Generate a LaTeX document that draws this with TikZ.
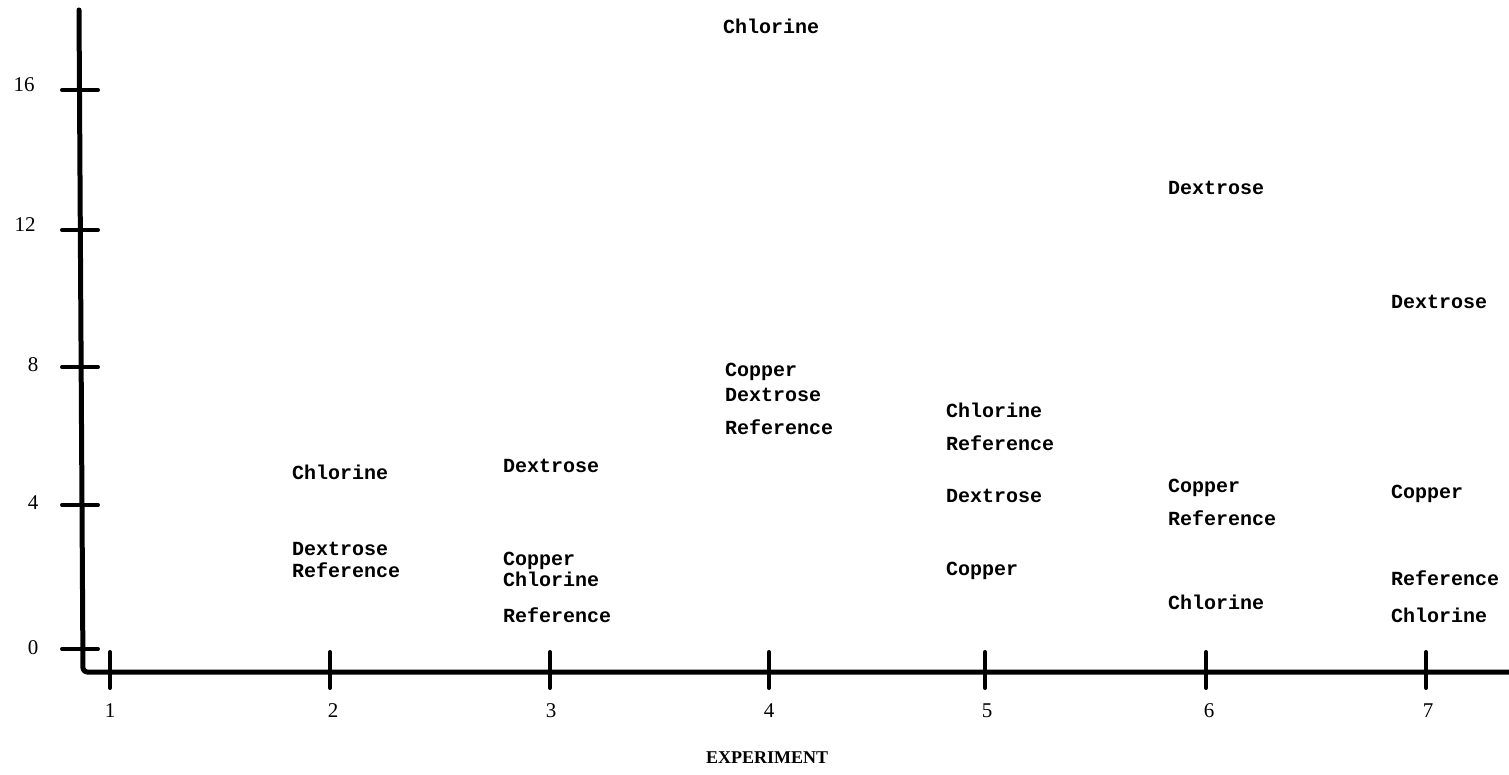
\documentclass[tikz,border=0pt]{standalone}
\usepackage{fontspec}
\setmainfont{Liberation Serif}
\newfontfamily\typew{Liberation Mono}
\begin{document}
\begin{tikzpicture}[x=1pt,y=-1pt,
  axisline/.style={line width=5pt,line cap=round,line join=round},
  tickline/.style={line width=4pt,line cap=round},
  lbl/.style={font=\typew\bfseries\fontsize{20}{24}\selectfont,anchor=base west,inner sep=0pt},
  num/.style={font=\fontsize{21}{24}\selectfont,inner sep=0pt},
  ttl/.style={font=\bfseries\fontsize{18}{22}\selectfont,inner sep=0pt}]
\useasboundingbox (0,0) rectangle (1509,775);
% axes
\coordinate (ytop) at (79,10);
\coordinate (corner) at (83,672);
\coordinate (xend) at (1509,672);
\draw[axisline,rounded corners=4pt] (ytop) -- (corner) -- (xend);
% y ticks
\foreach \yy/\lab/\lx/\ly in {90/16/24/85, 230/12/25/225, 367/8/33/365, 505/4/33/503, 649/0/33/648}{
  \coordinate (yt\lab a) at (62,\yy);
  \coordinate (yt\lab b) at (98,\yy);
  \draw[tickline] (yt\lab a) -- (yt\lab b);
  \node[num] (yl\lab) at (\lx,\ly) {\lab};
}
% x ticks
\foreach \xx/\lab/\lx in {110/1/110, 330/2/333, 550/3/551, 769/4/769, 985/5/987, 1206/6/1209, 1426/7/1428}{
  \coordinate (xt\lab a) at (\xx,652);
  \coordinate (xt\lab b) at (\xx,688);
  \draw[tickline] (xt\lab a) -- (xt\lab b);
  \node[num] (xl\lab) at (\lx,711) {\lab};
}
\node[ttl] (xtitle) at (767,758) {EXPERIMENT};
% experiment 2
\node[lbl] (e2cl) at (292,479) {Chlorine};
\node[lbl] (e2de) at (292,555) {Dextrose};
\node[lbl] (e2re) at (292,577) {Reference};
% experiment 3
\node[lbl] (e3de) at (503,472) {Dextrose};
\node[lbl] (e3co) at (503,565) {Copper};
\node[lbl] (e3cl) at (503,586) {Chlorine};
\node[lbl] (e3re) at (503,622) {Reference};
% experiment 4
\node[lbl] (e4cl) at (723,34) {Chlorine};
\node[lbl] (e4co) at (725,376) {Copper};
\node[lbl] (e4de) at (725,401) {Dextrose};
\node[lbl] (e4re) at (725,434) {Reference};
% experiment 5
\node[lbl] (e5cl) at (946,417) {Chlorine};
\node[lbl] (e5re) at (946,450) {Reference};
\node[lbl] (e5de) at (946,502) {Dextrose};
\node[lbl] (e5co) at (946,575) {Copper};
% experiment 6
\node[lbl] (e6de) at (1168,195) {Dextrose};
\node[lbl] (e6co) at (1168,492) {Copper};
\node[lbl] (e6re) at (1168,525) {Reference};
\node[lbl] (e6cl) at (1168,609) {Chlorine};
% experiment 7
\node[lbl] (e7de) at (1391,309) {Dextrose};
\node[lbl] (e7co) at (1391,498) {Copper};
\node[lbl] (e7re) at (1391,585) {Reference};
\node[lbl] (e7cl) at (1391,622) {Chlorine};
\end{tikzpicture}
\end{document}
